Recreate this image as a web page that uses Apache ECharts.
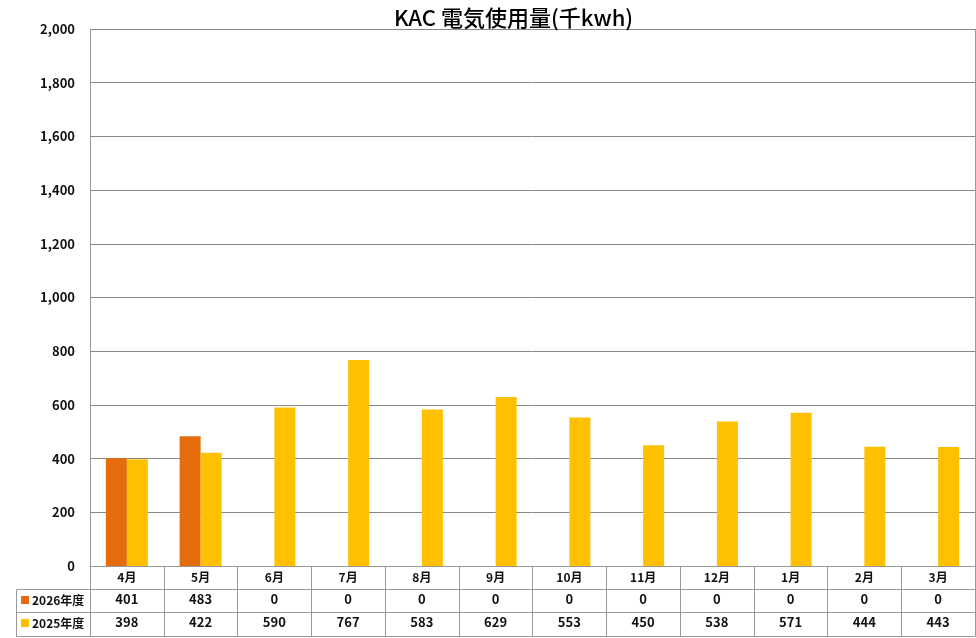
<!DOCTYPE html>
<html>
<head>
<meta charset="utf-8">
<script src="https://cdn.jsdelivr.net/npm/echarts@6/dist/echarts.min.js"></script>
<style>
  html, body { margin: 0; padding: 0; background: #fff; }
  #chart { width: 976px; height: 638px; }
</style>
</head>
<body>
<div id="chart"></div>
<script>
// 月（年度は4月始まり）
const months = ['4月', '5月', '6月', '7月', '8月', '9月', '10月', '11月', '12月', '1月', '2月', '3月'];
const usage2026 = [401, 483, 0, 0, 0, 0, 0, 0, 0, 0, 0, 0];
const usage2025 = [398, 422, 590, 767, 583, 629, 553, 450, 538, 571, 444, 443];
const seriesNames = ['2026年度', '2025年度'];

const font = '"Noto Sans CJK JP", "Noto Sans", sans-serif';
const lineColor = '#999';

const chart = echarts.init(document.getElementById('chart'));

// 表の行（月・2026・2025）をx軸のラベルで描く
const tableAxis = (labels, offset) => ({
    type: 'category',
    position: 'bottom',
    gridIndex: 0,
    offset: offset,
    data: labels,
    axisLine: { show: true, lineStyle: { color: lineColor, width: 1 } },
    axisTick: { show: false },
    axisLabel: {
        interval: 0,
        margin: 4,
        color: '#111',
        fontFamily: font,
        fontSize: 13,
        fontWeight: 'bold'
    }
});

// 凡例は表の各行に1つずつ
const rowLegend = (name, top) => ({
    data: [name],
    left: 16,
    top: top,
    icon: 'rect',
    itemWidth: 8,
    itemHeight: 8,
    itemGap: 0,
    textStyle: { fontFamily: font, fontSize: 12, fontWeight: 'bold', color: '#111', padding: [0, 0, 0, -2] }
});

chart.setOption({
    animation: false,
    title: {
        text: 'KAC 電気使用量(千kwh)',
        left: 389,
        top: 2,
        textStyle: { fontFamily: font, fontSize: 22, fontWeight: 500, color: '#000' }
    },
    legend: [rowLegend(seriesNames[0], 589), rowLegend(seriesNames[1], 612)],
    grid: { left: 90, right: 1, top: 29, bottom: 72 },
    xAxis: [
        {
            type: 'category',
            data: months,
            axisLine: { lineStyle: { color: lineColor } },
            axisTick: { show: true, interval: 0, length: 70, lineStyle: { color: lineColor } },
            axisLabel: { interval: 0, margin: 5, color: '#111', fontFamily: font, fontSize: 12, fontWeight: 'bold' }
        },
        tableAxis(usage2026.map(String), 23),
        tableAxis(usage2025.map(String), 46),
        Object.assign(tableAxis(months.map(() => ''), 70), { axisLabel: { show: false } })
    ],
    yAxis: {
        type: 'value',
        min: 0,
        max: 2000,
        interval: 200,
        axisLine: { show: true, lineStyle: { color: lineColor } },
        axisTick: { show: false },
        splitLine: { lineStyle: { color: '#888', width: 1 } },
        axisLabel: {
            margin: 15,
            color: '#111',
            fontFamily: font,
            fontSize: 13,
            fontWeight: 'bold',
            formatter: v => v.toLocaleString('en-US')
        }
    },
    series: [
        {
            name: seriesNames[0],
            type: 'bar',
            data: usage2026,
            barWidth: 21,
            barGap: 0,
            itemStyle: { color: '#E46C0A' }
        },
        {
            name: seriesNames[1],
            type: 'bar',
            data: usage2025,
            barWidth: 21,
            barGap: 0,
            itemStyle: { color: '#FFC000' }
        }
    ],
    graphic: [
        // 凡例の枠
        {
            type: 'polyline',
            shape: { points: [[90, 589.5], [16.5, 589.5], [16.5, 636.5], [90, 636.5]] },
            style: { stroke: lineColor, fill: null, lineWidth: 1 }
        },
        {
            type: 'line',
            shape: { x1: 16.5, y1: 612.5, x2: 90, y2: 612.5 },
            style: { stroke: lineColor, lineWidth: 1 }
        },
        {
            type: 'line',
            shape: { x1: 975.5, y1: 29, x2: 975.5, y2: 566 },
            style: { stroke: lineColor, lineWidth: 1 }
        }
    ]
});
</script>
</body>
</html>
